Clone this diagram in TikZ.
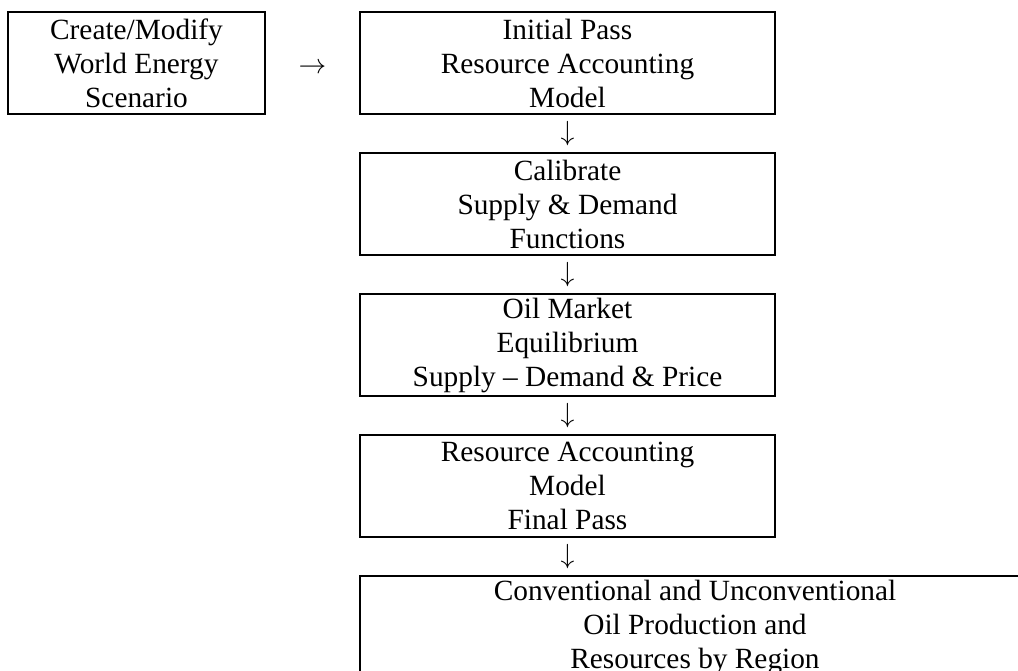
\documentclass[tikz,border=0pt]{standalone}
\usepackage{fontspec}
\setmainfont{Liberation Serif}
\usetikzlibrary{positioning}

\tikzset{
  stagebox/.style={draw, line width=1.3pt, align=center, inner sep=0pt,
    minimum width=311.25pt, minimum height=76.5pt,
    font=\fontsize{22}{25.5}\selectfont},
  arrowglyph/.style={inner sep=0pt, font=\fontsize{20}{24}\selectfont}
}

\begin{document}
\begin{tikzpicture}[x=0.75pt,y=-0.75pt]

% Page frame
\useasboundingbox (0,0) rectangle (1018,671);

% Scenario box
\node[stagebox, minimum width=192.75pt] (scenario) at (136.5,63) {Create/Modify\\World Energy\\Scenario};

% Main column
\node[stagebox] (initial) at (567.5,63) {Initial Pass\\Resource Accounting\\Model};
\node[stagebox, below=28pt of initial] (calibrate) {Calibrate\\Supply \& Demand\\Functions};
\node[stagebox, below=28pt of calibrate] (market) {Oil Market\\Equilibrium\\Supply -- Demand \& Price};
\node[stagebox, below=28pt of market] (final) {Resource Accounting\\Model\\Final Pass};
\node[stagebox, minimum width=502.5pt, below right=28pt and 0pt of final.south west] (output) {Conventional and Unconventional\\Oil Production and\\Resources by Region};

% Arrows (typed glyphs)
\path (scenario) -- (initial) node[midway, arrowglyph, yshift=-4pt] (toinitial) {$\rightarrow$};
\path (initial) -- (calibrate) node[midway, arrowglyph] (tocalibrate) {$\downarrow$};
\path (calibrate) -- (market) node[midway, arrowglyph] (tomarket) {$\downarrow$};
\path (market) -- (final) node[midway, arrowglyph] (tofinal) {$\downarrow$};
\path (final) -- (output.north -| final.south) node[midway, arrowglyph] (tooutput) {$\downarrow$};

\end{tikzpicture}
\end{document}
